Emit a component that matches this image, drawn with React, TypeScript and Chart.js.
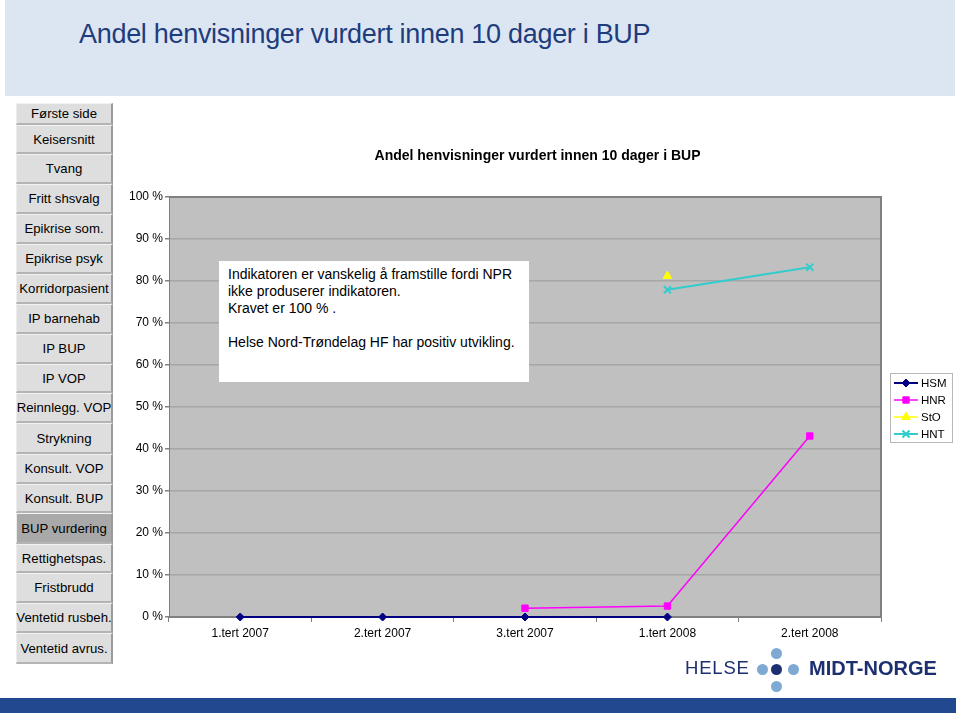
import React, { useEffect, useRef } from "react";
import { Chart, registerables } from "chart.js";
import { drawPoint } from "chart.js/helpers";

Chart.register(...registerables);

// ---- data ----
const categories = ["1.tert 2007", "2.tert 2007", "3.tert 2007", "1.tert 2008", "2.tert 2008"];
const hsmValues: (number | null)[] = [0, 0, 0, 0, null];
const hnrValues: (number | null)[] = [null, null, 2.1, 2.6, 43.1];
const stoValues: (number | null)[] = [null, null, null, 81.2, null];
const hntValues: (number | null)[] = [null, null, null, 77.9, 83.3];
const seriesNames = ["HSM", "HNR", "StO", "HNT"];

const pageTitle = "Andel henvisninger vurdert innen 10 dager i BUP";
const chartTitle = "Andel henvisninger vurdert innen 10 dager i BUP";
const noteLines = [
  "Indikatoren er vanskelig å framstille fordi NPR",
  "ikke produserer indikatoren.",
  "Kravet er 100 % .",
  "",
  "Helse Nord-Trøndelag HF har positiv utvikling.",
];
const navItems = [
  "Første side", "Keisersnitt", "Tvang", "Fritt shsvalg", "Epikrise som.", "Epikrise psyk",
  "Korridorpasient", "IP barnehab", "IP BUP", "IP VOP", "Reinnlegg. VOP", "Strykning",
  "Konsult. VOP", "Konsult. BUP", "BUP vurdering", "Rettighetspas.", "Fristbrudd",
  "Ventetid rusbeh.", "Ventetid avrus.",
];
const activeNav = "BUP vurdering";

// ---- layout ----
const navEdges = [103, 125, 154, 184, 214, 244, 274, 304, 334, 364, 393, 423, 454, 484, 513, 544, 573, 603, 633, 664];
const CANVAS_LEFT = 110;
const CANVAS_TOP = 130;
const CANVAS_W = 850;
const CANVAS_H = 530;
const FONT = '"Liberation Sans", Arial, Helvetica, sans-serif';

const plotBgPlugin = {
  id: "plotBg",
  beforeDraw(chart: any) {
    const { ctx, chartArea } = chart;
    ctx.save();
    ctx.fillStyle = "#c0c0c0";
    ctx.fillRect(chartArea.left, chartArea.top, chartArea.right - chartArea.left, chartArea.bottom - chartArea.top);
    ctx.restore();
  },
  beforeDatasetsDraw(chart: any) {
    const { ctx, chartArea } = chart;
    ctx.save();
    ctx.strokeStyle = "#808080";
    ctx.lineWidth = 2;
    ctx.beginPath();
    ctx.moveTo(chartArea.left, chartArea.top);
    ctx.lineTo(chartArea.right, chartArea.top);
    ctx.lineTo(chartArea.right, chartArea.bottom);
    ctx.stroke();
    ctx.restore();
  },
};

const titleLegendPlugin = {
  id: "titleLegend",
  afterDraw(chart: any) {
    const { ctx, chartArea } = chart;
    ctx.save();
    // chart title
    ctx.fillStyle = "#000";
    ctx.font = `bold 14px ${FONT}`;
    ctx.textAlign = "center";
    ctx.textBaseline = "middle";
    ctx.fillText(chartTitle, 537.5 - CANVAS_LEFT, 156 - CANVAS_TOP);

    // legend box
    const boxX = chartArea.right + 9;
    const boxW = 63;
    const boxH = 70;
    const midY = (chartArea.top + chartArea.bottom) / 2;
    const boxY = midY - boxH / 2 + 1;
    ctx.fillStyle = "#ffffff";
    ctx.fillRect(boxX, boxY, boxW, boxH);
    ctx.strokeStyle = "#b8b8b8";
    ctx.lineWidth = 1;
    ctx.strokeRect(boxX + 0.5, boxY + 0.5, boxW - 1, boxH - 1);
    ctx.font = `11.5px ${FONT}`;
    ctx.textAlign = "left";
    chart.data.datasets.forEach((ds: any, i: number) => {
      const y = boxY + 10 + i * 17;
      ctx.strokeStyle = ds.borderColor;
      ctx.lineWidth = ds.borderWidth;
      ctx.beginPath();
      ctx.moveTo(boxX + 4, y);
      ctx.lineTo(boxX + 28, y);
      ctx.stroke();
      ctx.fillStyle = ds.pointBackgroundColor;
      ctx.strokeStyle = ds.pointBorderColor;
      ctx.lineWidth = ds.pointBorderWidth;
      drawPoint(ctx, { pointStyle: ds.pointStyle, rotation: 0, radius: ds.pointRadius, borderWidth: ds.pointBorderWidth }, boxX + 16, y);
      ctx.fillStyle = "#000";
      ctx.fillText(ds.label, boxX + 31, y + 1);
    });
    ctx.restore();
  },
};

function ChartView() {
  const ref = useRef<HTMLCanvasElement>(null);
  useEffect(() => {
    if (!ref.current) return;
    const mk = (label: string, data: (number | null)[], color: string, style: string, radius: number, width: number, pbw: number) => ({
      label,
      data,
      borderColor: color,
      backgroundColor: color,
      pointBackgroundColor: color,
      pointBorderColor: color,
      pointBorderWidth: pbw,
      pointStyle: style,
      pointRadius: radius,
      borderWidth: width,
      tension: 0,
      clip: 10,
    });
    const chart = new Chart(ref.current, {
      type: "line",
      data: {
        labels: categories,
        datasets: [
          mk(seriesNames[0], hsmValues, "#000080", "rectRot", 4, 2, 1),
          mk(seriesNames[1], hnrValues, "#ff00ff", "rect", 4.5, 1.5, 1),
          mk(seriesNames[2], stoValues, "#ffff00", "triangle", 5, 1.5, 1),
          mk(seriesNames[3], hntValues, "#33cccc", "crossRot", 5, 2, 2),
        ],
      },
      options: {
        animation: false,
        responsive: false,
        maintainAspectRatio: false,
        layout: { padding: { top: 67, right: 79, left: 0, bottom: 0 } },
        plugins: {
          legend: { display: false },
          title: { display: false },
          tooltip: { enabled: false },
        },
        scales: {
          x: {
            offset: true,
            grid: {
              offset: true,
              drawOnChartArea: false,
              tickLength: 5,
              tickColor: "#808080",
            },
            border: { color: "#808080", width: 2 },
            ticks: { color: "#000", font: { family: FONT, size: 12 }, padding: 4, maxRotation: 0 },
            afterFit: (s: any) => { s.height = 43; },
          },
          y: {
            min: 0,
            max: 100,
            grid: { color: "#a6a6a6", lineWidth: 1.5, tickLength: 4, tickColor: "#808080" },
            border: { color: "#808080", width: 1 },
            ticks: {
              stepSize: 10,
              color: "#000",
              font: { family: FONT, size: 12 },
              padding: 2,
              callback: (v: any) => `${v} %`,
            },
            afterFit: (s: any) => { s.width = 59; },
          },
        },
      } as any,
      plugins: [plotBgPlugin, titleLegendPlugin],
    });
    return () => chart.destroy();
  }, []);
  return (
    <canvas
      ref={ref}
      width={CANVAS_W}
      height={CANVAS_H}
      style={{ position: "absolute", left: CANVAS_LEFT, top: CANVAS_TOP, width: CANVAS_W, height: CANVAS_H }}
    />
  );
}

export default function App() {
  return (
    <div
      style={{
        position: "absolute",
        left: 0,
        top: 0,
        width: 960,
        height: 716,
        background: "#ffffff",
        overflow: "hidden",
        fontFamily: FONT,
      }}
    >
      {/* header band */}
      <div style={{ position: "absolute", left: 5, top: 0, width: 950, height: 96, background: "#dce6f3" }} />
      <div
        style={{
          position: "absolute",
          left: 79,
          top: 16,
          fontSize: 27,
          letterSpacing: -0.3,
          color: "#1f3c7d",
          whiteSpace: "nowrap",
          lineHeight: "36px",
        }}
      >
        {pageTitle}
      </div>

      {/* nav buttons */}
      {navItems.map((name, i) => {
        const top = navEdges[i];
        const h = navEdges[i + 1] - navEdges[i];
        const active = name === activeNav;
        return (
          <div
            key={name}
            style={{
              position: "absolute",
              left: 16,
              top,
              width: 97,
              height: h,
              boxSizing: "border-box",
              background: active ? "#a9a9a9" : "#dedede",
              borderTop: "1px solid #f2f2f2",
              borderLeft: "1px solid #ececec",
              borderRight: "2px solid #9a9a9a",
              borderBottom: "2px solid #b4b4b4",
              display: "flex",
              alignItems: "center",
              justifyContent: "center",
              fontSize: 13.2,
              color: "#000",
              whiteSpace: "nowrap",
            }}
          >
            {name}
          </div>
        );
      })}

      <ChartView />

      {/* note text box */}
      <div
        style={{
          position: "absolute",
          left: 219,
          top: 261,
          width: 310,
          height: 121,
          boxSizing: "border-box",
          background: "#ffffff",
          padding: "5px 0 0 9px",
          fontSize: 14,
          lineHeight: "17px",
          color: "#000",
          whiteSpace: "nowrap",
        }}
      >
        {noteLines.map((l, i) => (
          <div key={i} style={{ height: 17 }}>{l}</div>
        ))}
      </div>

      {/* logo */}
      <div style={{ position: "absolute", left: 685, top: 656, fontSize: 18.5, letterSpacing: 0.8, color: "#1c2f6e", lineHeight: "24px", fontWeight: 300 }}>
        HELSE
      </div>
      {[
        [762, 669, "#7ea9d2"],
        [793, 669, "#7ea9d2"],
        [776, 653, "#7ea9d2"],
        [776, 686, "#7ea9d2"],
        [776, 669, "#1d2f70"],
      ].map(([x, y, c], i) => (
        <div
          key={i}
          style={{
            position: "absolute",
            left: (x as number) - 5.5,
            top: (y as number) - 5.5,
            width: 11,
            height: 11,
            borderRadius: "50%",
            background: c as string,
          }}
        />
      ))}
      <div style={{ position: "absolute", left: 809, top: 656, fontSize: 20, fontWeight: 700, color: "#1c2f6e", lineHeight: "24px" }}>
        MIDT-NORGE
      </div>

      {/* bottom band */}
      <div style={{ position: "absolute", left: 0, top: 698, width: 956, height: 15, background: "#22498f" }} />
    </div>
  );
}
